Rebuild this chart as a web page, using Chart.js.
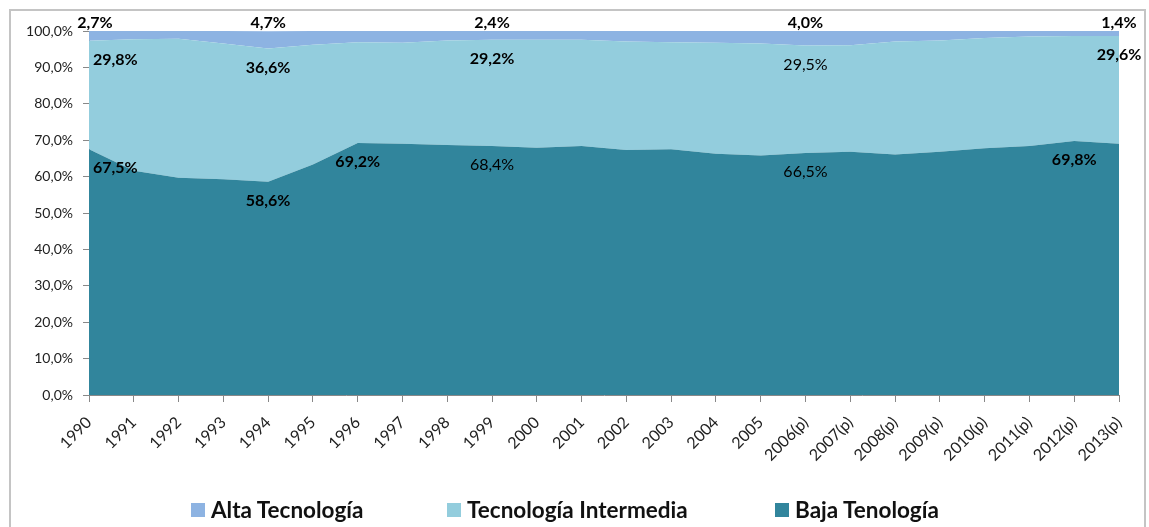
<!DOCTYPE html>
<html lang="es">
<head>
<meta charset="utf-8">
<title>Intensidad tecnológica</title>
<script src="https://cdn.jsdelivr.net/npm/chart.js@4/dist/chart.umd.min.js"></script>
<style>
  html, body { margin: 0; padding: 0; background: #fff; }
  body { width: 1149px; height: 527px; position: relative; overflow: hidden; font-family: Lato, sans-serif; }
  #frame { position: absolute; left: 9px; top: 9px; width: 1133px; height: 560px; border: 2px solid #c4c4c4; }
  #chart { position: absolute; left: 0; top: 0; }
  .legend-item { position: absolute; top: 496px; font: bold 22.5px Lato, sans-serif; color: #111; white-space: nowrap; }
  .legend-box { position: absolute; top: 503px; width: 14px; height: 14px; }
</style>
</head>
<body>
<div id="frame"></div>
<canvas id="chart" width="1149" height="527"></canvas>
<div id="legend"></div>
<script>
// Categories
const years = ['1990', '1991', '1992', '1993', '1994', '1995', '1996', '1997', '1998', '1999',
  '2000', '2001', '2002', '2003', '2004', '2005', '2006(p)', '2007(p)', '2008(p)', '2009(p)',
  '2010(p)', '2011(p)', '2012(p)', '2013(p)'];

// Shares (%)
const baja = [67.5, 61.6, 59.7, 59.3, 58.6, 63.3, 69.2, 69.0, 68.7, 68.4, 67.9, 68.4,
  67.3, 67.5, 66.3, 65.8, 66.5, 66.8, 66.1, 66.8, 67.8, 68.4, 69.8, 69.0];
const intermedia = [29.8, 36.1, 38.2, 37.3, 36.6, 32.9, 27.7, 27.8, 28.7, 29.2, 29.7, 29.2,
  29.8, 29.4, 30.5, 30.8, 29.5, 29.3, 31.0, 30.6, 30.3, 30.1, 28.8, 29.6];
const alta = [2.7, 2.3, 2.1, 3.4, 4.7, 3.8, 3.1, 3.2, 2.6, 2.4, 2.4, 2.4,
  2.9, 3.1, 3.2, 3.4, 4.0, 3.9, 2.9, 2.6, 1.9, 1.5, 1.4, 1.4];

// Y axis ticks
const yTicks = [0, 10, 20, 30, 40, 50, 60, 70, 80, 90, 100];

// Points that carry a data label
const bajaLabels = [0, 4, 6, 9, 16, 22];
const intermediaLabels = [0, 4, 9, 16, 23];
const altaLabels = [0, 4, 9, 16, 23];
const plainLabels = { baja: [9, 16], intermedia: [16], alta: [] };

const colors = {
  alta: '#8db3e2',
  intermedia: '#93cddd',
  baja: '#31859c'
};

function pct(v) {
  return v.toFixed(1).replace('.', ',') + '%';
}

// Legend (Alta, Intermedia, Baja order like the original)
const legendItems = [
  { text: 'Alta Tecnología', color: colors.alta, box: 191, label: 211 },
  { text: 'Tecnología Intermedia', color: colors.intermedia, box: 447, label: 467 },
  { text: 'Baja Tenología', color: colors.baja, box: 775, label: 795 }
];
const legendDiv = document.getElementById('legend');
legendItems.forEach(item => {
  const box = document.createElement('div');
  box.className = 'legend-box';
  box.style.left = item.box + 'px';
  box.style.background = item.color;
  legendDiv.appendChild(box);
  const span = document.createElement('div');
  span.className = 'legend-item';
  span.style.left = item.label + 'px';
  span.textContent = item.text;
  legendDiv.appendChild(span);
});

// Draws the percentage labels on the areas
const valueLabels = {
  id: 'valueLabels',
  afterDatasetsDraw(chart) {
    const ctx = chart.ctx;
    const area = chart.chartArea;
    ctx.save();
    ctx.fillStyle = '#000';
    ctx.textBaseline = 'middle';
    chart.data.datasets.forEach((ds, di) => {
      const meta = chart.getDatasetMeta(di);
      ds.labelAt.forEach(i => {
        const pt = meta.data[i];
        const plain = plainLabels[ds.key].includes(i);
        ctx.font = (plain ? '' : 'bold ') + '16px Lato, sans-serif';
        let x = pt.x;
        let y = ds.key === 'alta' ? area.top - 8 : pt.y + 19;
        ctx.textAlign = 'center';
        if (i === 0) {
          if (ds.key === 'alta') {
            x += 6;
          } else {
            ctx.textAlign = 'left';
            x += 4;
          }
        }
        ctx.fillText(pct(ds.data[i]), x, y);
      });
    });
    ctx.restore();
  }
};

const chart = new Chart(document.getElementById('chart'), {
  type: 'line',
  data: {
    labels: years,
    datasets: [
      { key: 'baja', label: 'Baja Tenología', data: baja, labelAt: bajaLabels,
        backgroundColor: colors.baja, fill: 'origin' },
      { key: 'intermedia', label: 'Tecnología Intermedia', data: intermedia, labelAt: intermediaLabels,
        backgroundColor: colors.intermedia, fill: '-1' },
      { key: 'alta', label: 'Alta Tecnología', data: alta, labelAt: altaLabels,
        backgroundColor: colors.alta, fill: '-1' }
    ].map(ds => Object.assign(ds, { borderWidth: 0, pointRadius: 0, tension: 0 }))
  },
  options: {
    responsive: false,
    animation: false,
    layout: { padding: { top: 31, right: 30, left: 0, bottom: 0 } },
    plugins: {
      legend: { display: false },
      tooltip: { enabled: false }
    },
    scales: {
      x: {
        offset: false,
        afterFit: scale => { scale.height = 132; },
        ticks: {
          autoSkip: false,
          maxRotation: 45,
          minRotation: 45,
          padding: 11,
          color: '#222',
          font: { family: 'Lato', size: 16 }
        },
        grid: { display: true, drawOnChartArea: false, drawTicks: true, tickLength: 7, color: '#888' },
        border: { display: true, color: '#888' }
      },
      y: {
        stacked: true,
        min: 0,
        max: 100,
        afterFit: scale => { scale.width = 89; },
        afterBuildTicks: scale => { scale.ticks = yTicks.map(v => ({ value: v })); },
        ticks: {
          padding: 10,
          color: '#222',
          font: { family: 'Lato', size: 14 },
          callback: v => pct(v)
        },
        grid: { display: true, drawOnChartArea: false, drawTicks: true, tickLength: 6, color: '#888' },
        border: { display: true, color: '#888' }
      }
    }
  },
  plugins: [valueLabels]
});
</script>
</body>
</html>
